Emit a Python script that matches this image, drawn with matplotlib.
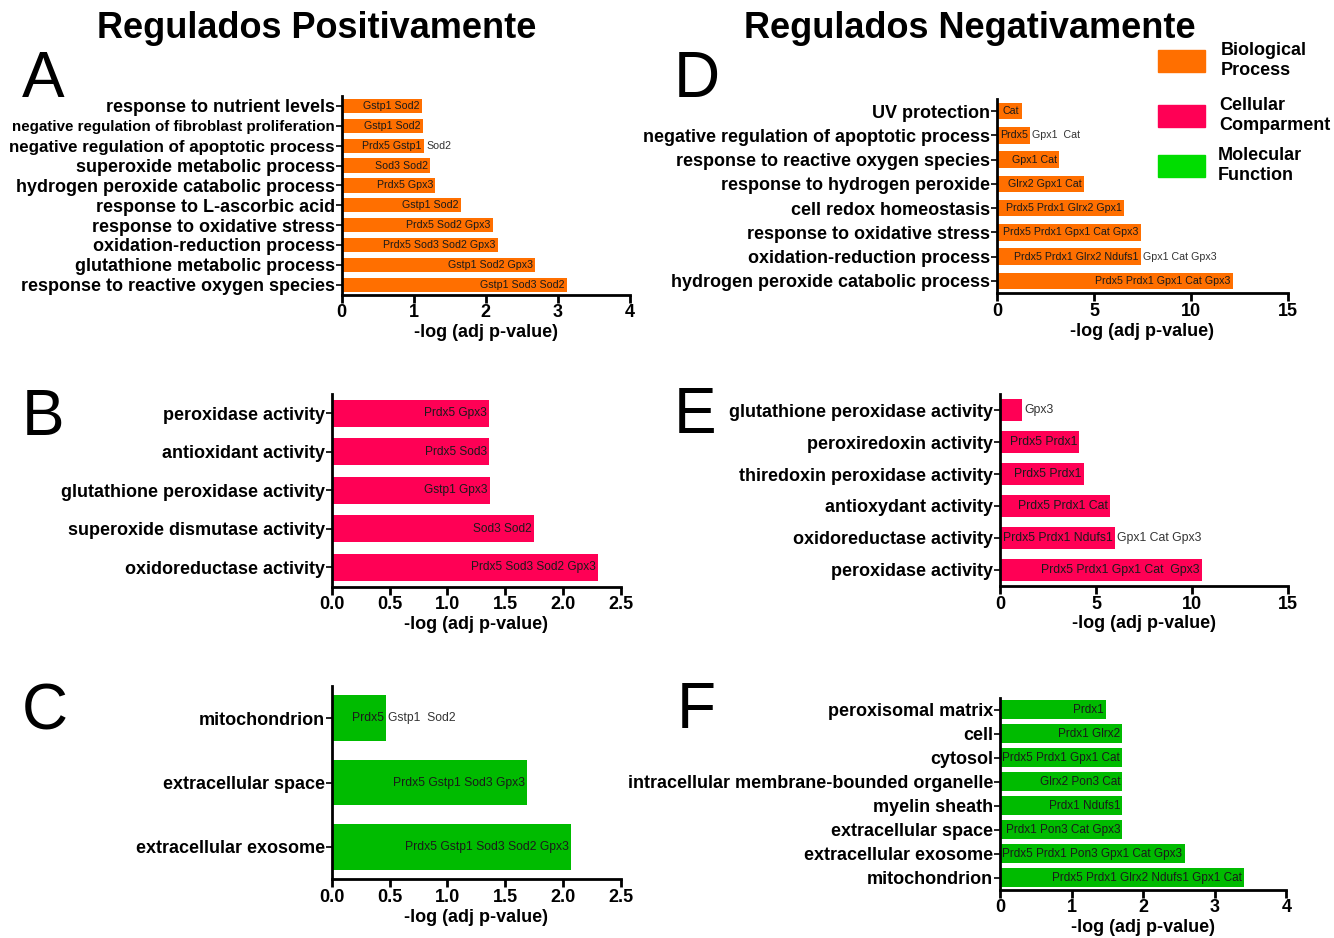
import matplotlib.pyplot as plt
from matplotlib.patches import Rectangle

plt.rcParams['font.family'] = ['Liberation Sans', 'DejaVu Sans']

# colours
orange = '#FF6F00'
pink = '#FF0055'
green = '#00BB00'
green_leg = '#00DD00'

##############
# data (top to bottom as in the picture)
##############

# A - up, biological process
a_terms = ['response to nutrient levels',
           'negative regulation of fibroblast proliferation',
           'negative regulation of apoptotic process',
           'superoxide metabolic process',
           'hydrogen peroxide catabolic process',
           'response to L-ascorbic acid',
           'response to oxidative stress',
           'oxidation-reduction process',
           'glutathione metabolic process',
           'response to reactive oxygen species']
a_vals = [1.11, 1.13, 1.14, 1.23, 1.30, 1.65, 2.10, 2.17, 2.68, 3.13]
a_in = ['Gstp1 Sod2', 'Gstp1 Sod2', 'Prdx5 Gstp1', 'Sod3 Sod2', 'Prdx5 Gpx3',
        'Gstp1 Sod2', 'Prdx5 Sod2 Gpx3', 'Prdx5 Sod3 Sod2 Gpx3',
        'Gstp1 Sod2 Gpx3', 'Gstp1 Sod3 Sod2']
a_out = ['', '', 'Sod2', '', '', '', '', '', '', '']

# B - up, molecular function
b_terms = ['peroxidase activity', 'antioxidant activity',
           'glutathione peroxidase activity', 'superoxide dismutase activity',
           'oxidoreductase activity']
b_vals = [1.36, 1.36, 1.37, 1.75, 2.30]
b_in = ['Prdx5 Gpx3', 'Prdx5 Sod3', 'Gstp1 Gpx3', 'Sod3 Sod2',
        'Prdx5 Sod3 Sod2 Gpx3']
b_out = ['', '', '', '', '']

# C - up, cellular compartment
c_terms = ['mitochondrion', 'extracellular space', 'extracellular exosome']
c_vals = [0.47, 1.69, 2.07]
c_in = ['Prdx5', 'Prdx5 Gstp1 Sod3 Gpx3', 'Prdx5 Gstp1 Sod3 Sod2 Gpx3']
c_out = ['Gstp1  Sod2', '', '']

# D - down, biological process
d_terms = ['UV protection', 'negative regulation of apoptotic process',
           'response to reactive oxygen species', 'response to hydrogen peroxide',
           'cell redox homeostasis', 'response to oxidative stress',
           'oxidation-reduction process', 'hydrogen peroxide catabolic process']
d_vals = [1.26, 1.69, 3.19, 4.46, 6.53, 7.41, 7.41, 12.15]
d_in = ['Cat', 'Prdx5', 'Gpx1 Cat', 'Glrx2 Gpx1 Cat', 'Prdx5 Prdx1 Glrx2 Gpx1',
        'Prdx5 Prdx1 Gpx1 Cat Gpx3', 'Prdx5 Prdx1 Glrx2 Ndufs1',
        'Prdx5 Prdx1 Gpx1 Cat Gpx3']
d_out = ['', 'Gpx1  Cat', '', '', '', '', 'Gpx1 Cat Gpx3', '']

# E - down, molecular function
e_terms = ['glutathione peroxidase activity', 'peroxiredoxin activity',
           'thiredoxin peroxidase activity', 'antioxydant activity',
           'oxidoreductase activity', 'peroxidase activity']
e_vals = [1.13, 4.13, 4.35, 5.71, 5.98, 10.51]
e_in = ['', 'Prdx5 Prdx1', 'Prdx5 Prdx1', 'Prdx5 Prdx1 Cat',
        'Prdx5 Prdx1 Ndufs1', 'Prdx5 Prdx1 Gpx1 Cat  Gpx3']
e_out = ['Gpx3', '', '', '', 'Gpx1 Cat Gpx3', '']

# F - down, cellular compartment
f_terms = ['peroxisomal matrix', 'cell', 'cytosol',
           'intracellular membrane-bounded organelle', 'myelin sheath',
           'extracellular space', 'extracellular exosome', 'mitochondrion']
f_vals = [1.48, 1.71, 1.71, 1.71, 1.71, 1.71, 2.58, 3.41]
f_in = ['Prdx1', 'Prdx1 Glrx2', 'Prdx5 Prdx1 Gpx1 Cat', 'Glrx2 Pon3 Cat',
        'Prdx1 Ndufs1', 'Prdx1 Pon3 Cat Gpx3', 'Prdx5 Prdx1 Pon3 Gpx1 Cat Gpx3',
        'Prdx5 Prdx1 Glrx2 Ndufs1 Gpx1 Cat']
f_out = ['', '', '', '', '', '', '', '']

legend_labels = ['Biological\nProcess', 'Cellular\nComparment', 'Molecular\nFunction']

##############
# figure
##############

W, H = 1334, 938
fig = plt.figure(figsize=(W / 100, H / 100), dpi=100)


def box(x0, x1, ytop, ybot):
    return [x0 / W, 1 - ybot / H, (x1 - x0) / W, (ybot - ytop) / H]


def panel(rect, terms, vals, gin, gout, color, xmax, xticks, hratio,
          lab_fs, gene_fs):
    ax = fig.add_axes(rect)
    n = len(terms)
    ypos = [n - 1 - i for i in range(n)]
    ax.barh(ypos, vals, height=hratio, color=color, edgecolor='none')
    ax.set_xlim(0, xmax)
    ax.set_ylim(-0.5, n - 0.5)
    ax.set_yticks(ypos)
    ax.set_yticklabels(terms, fontsize=lab_fs, fontweight='bold')
    ax.set_xticks(xticks)
    ax.set_xticklabels([('%g' % t) if xmax != 2.5 else '%.1f' % t for t in xticks],
                       fontsize=13, fontweight='bold')
    ax.set_xlabel('-log (adj p-value)', fontsize=13, fontweight='bold', labelpad=2)
    for s in ['top', 'right']:
        ax.spines[s].set_visible(False)
    for s in ['left', 'bottom']:
        ax.spines[s].set_linewidth(2)
    ax.tick_params(axis='x', length=6, width=2, pad=1)
    ax.tick_params(axis='y', length=4, width=1.2, pad=1)
    pad = xmax * 0.008
    for y, v, t_in, t_out in zip(ypos, vals, gin, gout):
        if t_in:
            ax.text(v - pad, y, t_in, ha='right', va='center', fontsize=gene_fs,
                    color='#1a1a1a')
        if t_out:
            ax.text(v + pad, y, t_out, ha='left', va='center', fontsize=gene_fs,
                    color='#333333')
    return ax


axA = panel(box(341.7, 630, 96, 294.6), a_terms, a_vals, a_in, a_out, orange,
            4, [0, 1, 2, 3, 4], 0.72, 13, 7.7)
panel(box(331.7, 621, 394, 586.5), b_terms, b_vals, b_in, b_out, pink,
      2.5, [0, 0.5, 1.0, 1.5, 2.0, 2.5], 0.69, 13, 8.6)
panel(box(331.7, 621, 686, 879), c_terms, c_vals, c_in, c_out, green,
      2.5, [0, 0.5, 1.0, 1.5, 2.0, 2.5], 0.71, 13, 8.7)
panel(box(997.3, 1287.7, 99, 293), d_terms, d_vals, d_in, d_out, orange,
      15, [0, 5, 10, 15], 0.68, 13, 7.7)
panel(box(1000, 1288.3, 394, 586), e_terms, e_vals, e_in, e_out, pink,
      15, [0, 5, 10, 15], 0.67, 13, 8.8)
panel(box(1000, 1286.3, 697.5, 889.5), f_terms, f_vals, f_in, f_out, green,
      4, [0, 1, 2, 3, 4], 0.77, 13, 8.5)

# two labels of panel A are set smaller in the picture
axA.get_yticklabels()[1].set_fontsize(10.9)
axA.get_yticklabels()[2].set_fontsize(12.2)

# titles
fig.text(317 / W, 1 - 38 / H, 'Regulados Positivamente', ha='center',
         va='baseline', fontsize=26, fontweight='bold')
fig.text(970 / W, 1 - 38 / H, 'Regulados Negativamente', ha='center',
         va='baseline', fontsize=26, fontweight='bold')

# panel letters
letters = ['A', 'B', 'C', 'D', 'E', 'F']
lx = [22, 22, 22, 674, 674, 677]
ly = [97, 435, 730, 97, 433, 728]
for t, x, y in zip(letters, lx, ly):
    fig.text(x / W, 1 - y / H, t, ha='left', va='baseline', fontsize=46)

# legend
leg_cols = [orange, pink, green_leg]
leg_y = [50, 105, 155]
leg_tx = [1221, 1219, 1218]
for lab, c, y, tx in zip(legend_labels, leg_cols, leg_y, leg_tx):
    fig.add_artist(Rectangle((1158 / W, 1 - (y + 22) / H), 47 / W, 22 / H,
                             transform=fig.transFigure, color=c))
    fig.text(tx / W, 1 - (y - 8) / H, lab, ha='left', va='top', fontsize=13,
             fontweight='bold', linespacing=1.2)

fig.savefig('out.png', dpi=100)
